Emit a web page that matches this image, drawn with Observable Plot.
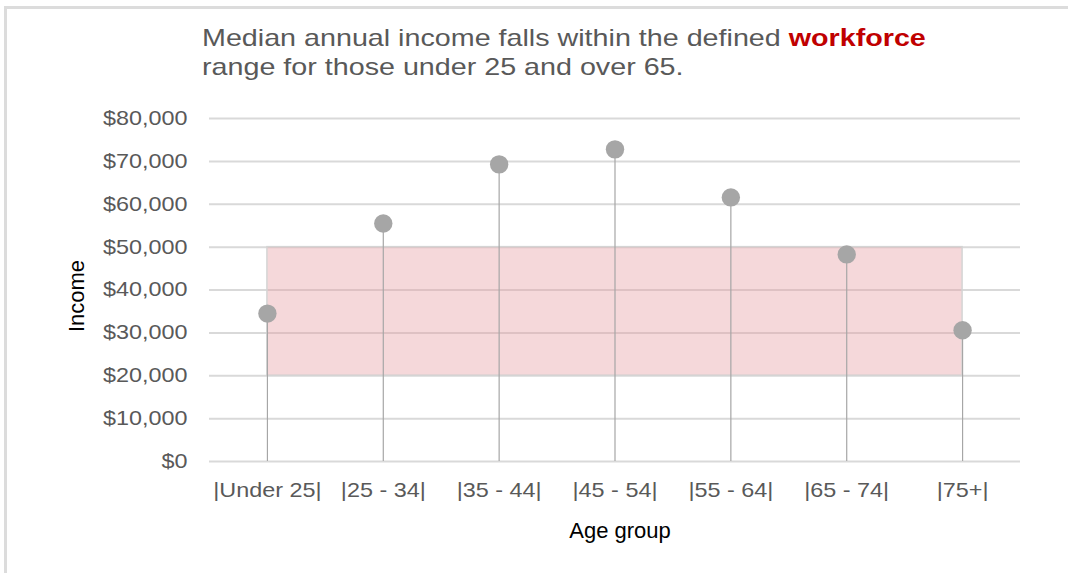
<!DOCTYPE html>
<html>
<head>
<meta charset="utf-8">
<script src="https://cdn.jsdelivr.net/npm/d3@7"></script>
<script src="https://cdn.jsdelivr.net/npm/@observablehq/plot@0.6"></script>
<style>
  html, body { margin: 0; padding: 0; background: #fff; }
  #wrap { position: relative; width: 1068px; height: 573px; overflow: hidden; font-family: "Liberation Sans", Arial, sans-serif; }
  #borderTop { position: absolute; left: 4px; top: 6px; width: 1064px; height: 3px; background: #dcdcdc; }
  #borderLeft { position: absolute; left: 4px; top: 6px; width: 3px; height: 567px; background: #dcdcdc; }
  #title { position: absolute; left: 202px; top: 23px; font-size: 24px; line-height: 29px; color: #595959; white-space: nowrap; transform: scaleX(1.195); transform-origin: 0 0; }
  #title b { color: #c00000; }
  #chart { position: absolute; left: 0; top: 95px; }
</style>
</head>
<body>
<div id="wrap">
  <div id="borderTop"></div>
  <div id="borderLeft"></div>
  <div id="title">Median annual income falls within the defined <b>workforce</b><br>range for those under 25 and over 65.</div>
  <div id="chart"></div>
</div>
<script>
const ageGroups = ["|Under 25|", "|25 - 34|", "|35 - 44|", "|45 - 54|", "|55 - 64|", "|65 - 74|", "|75+|"];
const incomes = [34500, 55500, 69300, 72800, 61600, 48300, 30600];
const workforceRange = [20000, 50000];
const yTicks = [0, 10000, 20000, 30000, 40000, 50000, 60000, 70000, 80000];
const xTitle = "Age group";
const yTitle = "Income";

const data = ageGroups.map((a, i) => ({age: a, income: incomes[i]}));
const band = [{x1: ageGroups[0], x2: ageGroups[ageGroups.length - 1], y1: workforceRange[0], y2: workforceRange[1]}];

const fmt = d => "$" + d3.format(",")(d);

const chart = Plot.plot({
  width: 1068,
  height: 478,
  marginTop: 23,
  marginBottom: 112,
  marginLeft: 209,
  marginRight: 48,
  style: {fontFamily: "'Liberation Sans', Arial, sans-serif", fontSize: "20px", color: "#595959", background: "transparent"},
  x: {type: "point", domain: ageGroups, padding: 0.5, round: false},
  y: {domain: [0, 80000]},
  marks: [
    Plot.ruleY(yTicks, {stroke: "#d9d9d9", strokeWidth: 2}),
    Plot.rect(band, {x1: "x1", x2: "x2", y1: "y1", y2: "y2", fill: "rgb(230,158,163)", fillOpacity: 0.4, stroke: "#d4d4d4", strokeWidth: 1.5}),
    Plot.axisY({ticks: yTicks, tickFormat: fmt, tickSize: 0, tickPadding: 22, label: null, fill: "#595959", fontSize: 20}),
    Plot.axisX({tickSize: 0, tickPadding: 21, label: null, fill: "#595959", fontSize: 20}),
    Plot.text([yTitle], {frameAnchor: "left", textAnchor: "middle", lineAnchor: "middle", dx: -133, dy: 6, rotate: -90, fill: "#000", fontSize: 22, ariaLabel: "y-title"}),
    Plot.text([xTitle], {frameAnchor: "bottom", textAnchor: "middle", lineAnchor: "middle", dx: 5, dy: 69, fill: "#000", fontSize: 22, ariaLabel: "x-title"}),
    Plot.ruleX(data, {x: "age", y1: 0, y2: "income", stroke: "#a6a6a6", strokeWidth: 1.2}),
    Plot.dot(data, {x: "age", y: "income", r: 9.2, fill: "#a6a6a6", stroke: "none"})
  ]
});
document.getElementById("chart").appendChild(chart);

function stretch(selector, sx) {
  chart.querySelectorAll(selector).forEach(t => {
    const tr = t.getAttribute("transform") || "";
    const xa = t.getAttribute("x");
    let extra = "";
    if (xa !== null && !isNaN(parseFloat(xa))) {
      extra = ` translate(${parseFloat(xa)},0)`;
      t.removeAttribute("x");
    }
    t.setAttribute("transform", `${tr}${extra} scale(${sx},1)`.trim());
  });
}
stretch('g[aria-label="y-axis tick label"] text', 1.17);
stretch('g[aria-label="x-axis tick label"] text', 1.17);
stretch('g[aria-label="x-title"] text', 1.1);
</script>
</body>
</html>
